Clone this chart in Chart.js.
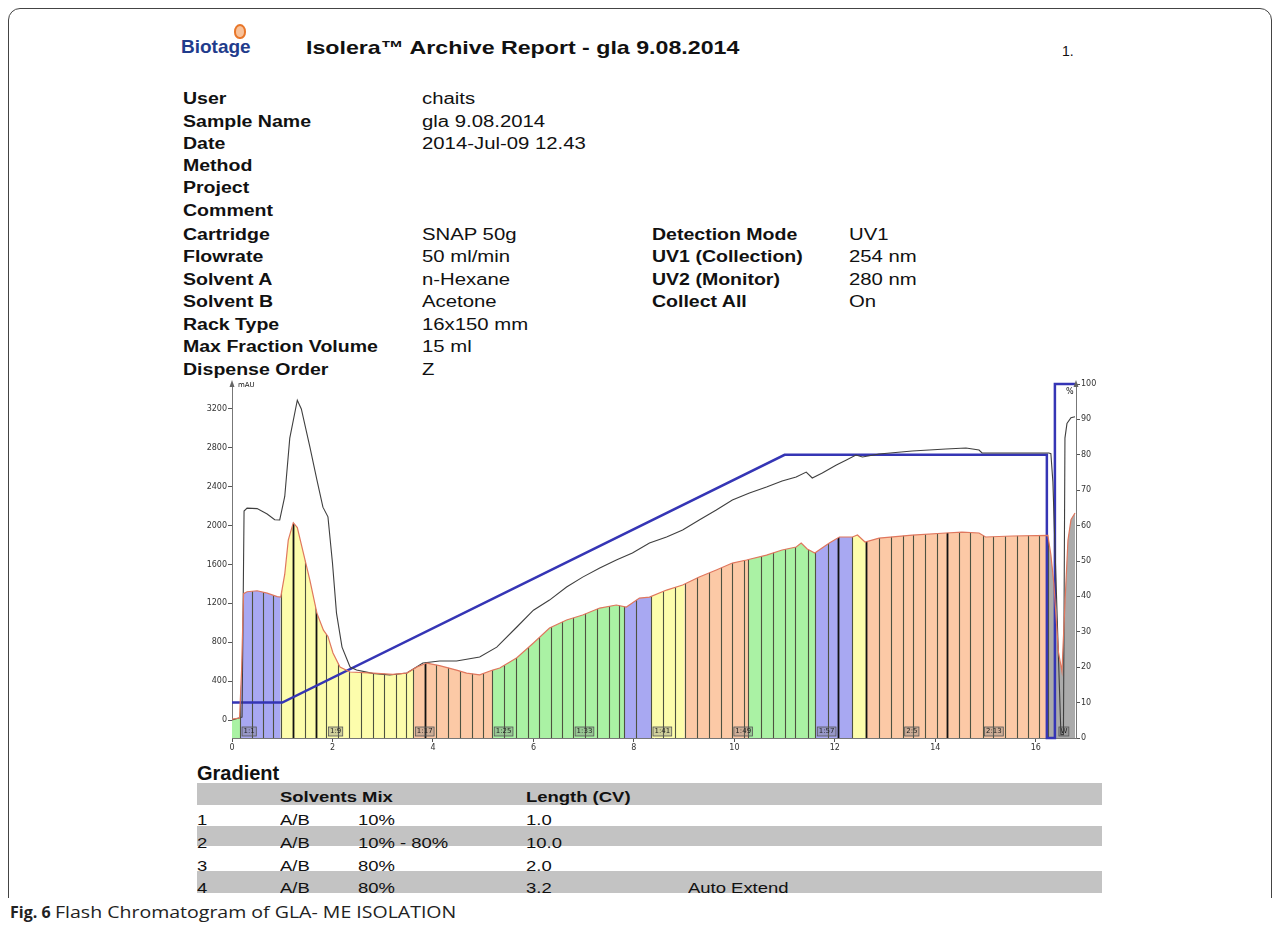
<!DOCTYPE html>
<html>
<head>
<meta charset="utf-8">
<script src="https://cdn.jsdelivr.net/npm/chart.js@4.4.0/dist/chart.umd.min.js"></script>
<style>
  html, body { margin: 0; padding: 0; background: #fff; }
  body { width: 1281px; height: 938px; position: relative; overflow: hidden; font-family: "Liberation Sans", Arial, sans-serif; color: #111; }
  .frame { position: absolute; left: 8px; top: 8px; width: 1264px; height: 1000px; border: 1.5px solid #444; border-radius: 12px; box-sizing: border-box; }
  .t { position: absolute; white-space: nowrap; transform-origin: 0 50%; line-height: 20px; }
  .lab { font-weight: bold; font-size: 16px; transform: scaleX(1.22); }
  .val { font-size: 16px; transform: scaleX(1.27); }
  .tb { font-size: 15px; transform: scaleX(1.23); }
  .bar { position: absolute; left: 197px; width: 905px; background: #c3c3c3; }
  #chartBox { position: absolute; left: 190px; top: 370px; width: 910px; height: 390px; }
</style>
</head>
<body>
<div class="frame"></div>

<!-- header -->
<div style="position:absolute;left:234px;top:24px;width:8px;height:11px;border-radius:50% 50% 45% 45%;border:2px solid #e8772a;background:#f8c29a;"></div>
<div class="t" style="left:181px;top:37px;font-size:19px;font-weight:bold;color:#1f3c8c;">Biotage</div>
<div class="t" style="left:306px;top:38px;font-size:19px;font-weight:bold;transform:scaleX(1.22);">Isolera™ Archive Report - gla 9.08.2014</div>
<div class="t" style="left:1062px;top:41px;font-size:14px;">1.</div>

<!-- info table -->
<div class="t lab" style="left:183px;top:89px;">User</div>
<div class="t lab" style="left:183px;top:112px;">Sample Name</div>
<div class="t lab" style="left:183px;top:134px;">Date</div>
<div class="t lab" style="left:183px;top:156px;">Method</div>
<div class="t lab" style="left:183px;top:178px;">Project</div>
<div class="t lab" style="left:183px;top:201px;">Comment</div>
<div class="t lab" style="left:183px;top:225px;">Cartridge</div>
<div class="t lab" style="left:183px;top:247px;">Flowrate</div>
<div class="t lab" style="left:183px;top:270px;">Solvent A</div>
<div class="t lab" style="left:183px;top:292px;">Solvent B</div>
<div class="t lab" style="left:183px;top:315px;">Rack Type</div>
<div class="t lab" style="left:183px;top:337px;">Max Fraction Volume</div>
<div class="t lab" style="left:183px;top:360px;">Dispense Order</div>

<div class="t val" style="left:422px;top:89px;">chaits</div>
<div class="t val" style="left:422px;top:112px;">gla 9.08.2014</div>
<div class="t val" style="left:422px;top:134px;">2014-Jul-09 12.43</div>
<div class="t val" style="left:422px;top:225px;">SNAP 50g</div>
<div class="t val" style="left:422px;top:247px;">50 ml/min</div>
<div class="t val" style="left:422px;top:270px;">n-Hexane</div>
<div class="t val" style="left:422px;top:292px;">Acetone</div>
<div class="t val" style="left:422px;top:315px;">16x150 mm</div>
<div class="t val" style="left:422px;top:337px;">15 ml</div>
<div class="t val" style="left:422px;top:360px;">Z</div>

<div class="t lab" style="left:652px;top:225px;">Detection Mode</div>
<div class="t lab" style="left:652px;top:247px;">UV1 (Collection)</div>
<div class="t lab" style="left:652px;top:270px;">UV2 (Monitor)</div>
<div class="t lab" style="left:652px;top:292px;">Collect All</div>
<div class="t val" style="left:849px;top:225px;">UV1</div>
<div class="t val" style="left:849px;top:247px;">254 nm</div>
<div class="t val" style="left:849px;top:270px;">280 nm</div>
<div class="t val" style="left:849px;top:292px;">On</div>

<!-- chart -->
<div id="chartBox"><canvas id="chrom"></canvas></div>
<div class="t" style="left:238px;top:381px;font-size:7px;line-height:9px;font-family:'DejaVu Sans';">mAU</div>
<div class="t" style="left:1066px;top:387px;font-size:8px;line-height:9px;font-family:'DejaVu Sans';">%</div>

<!-- gradient table -->
<div class="t" style="left:197px;top:763px;font-size:20px;font-weight:bold;">Gradient</div>
<div class="bar" style="top:783px;height:22px;"></div>
<div class="bar" style="top:826px;height:20px;"></div>
<div class="bar" style="top:871px;height:22px;"></div>
<div class="t tb" style="left:280px;top:787px;font-weight:bold;">Solvents Mix</div>
<div class="t tb" style="left:526px;top:787px;font-weight:bold;">Length (CV)</div>

<div class="t tb" style="left:197px;top:810px;">1</div>
<div class="t tb" style="left:280px;top:810px;">A/B</div>
<div class="t tb" style="left:358px;top:810px;">10%</div>
<div class="t tb" style="left:526px;top:810px;">1.0</div>

<div class="t tb" style="left:197px;top:833px;">2</div>
<div class="t tb" style="left:280px;top:833px;">A/B</div>
<div class="t tb" style="left:358px;top:833px;">10% - 80%</div>
<div class="t tb" style="left:526px;top:833px;">10.0</div>

<div class="t tb" style="left:197px;top:856px;">3</div>
<div class="t tb" style="left:280px;top:856px;">A/B</div>
<div class="t tb" style="left:358px;top:856px;">80%</div>
<div class="t tb" style="left:526px;top:856px;">2.0</div>

<div class="t tb" style="left:197px;top:878px;">4</div>
<div class="t tb" style="left:280px;top:878px;">A/B</div>
<div class="t tb" style="left:358px;top:878px;">80%</div>
<div class="t tb" style="left:526px;top:878px;">3.2</div>
<div class="t tb" style="left:688px;top:878px;">Auto Extend</div>

<!-- caption -->
<div style="position:absolute;left:0;top:898px;width:1281px;height:40px;background:#fff;"></div>
<div class="t" style="left:10px;top:902px;font-family:'Open Sans',sans-serif;font-size:16px;font-weight:bold;color:#222;">Fig. 6</div>
<div class="t" style="left:55px;top:902px;font-family:'Open Sans',sans-serif;font-size:16px;color:#222;transform:scaleX(1.22);">Flash Chromatogram of GLA- ME ISOLATION</div>

<script>
// UV1 (collection trace, mAU) - filled by fraction colour
const uv1X = [0, 0.15, 0.19, 0.23, 0.3, 0.5, 0.7, 0.9, 0.97, 1.05, 1.12, 1.22, 1.3, 1.42, 1.55, 1.69, 1.82, 1.91, 2.01, 2.15,
  2.35, 2.81, 3.2, 3.48, 3.68, 3.88, 4.13, 4.47, 4.67, 4.93, 5.19, 5.33, 5.53, 5.67, 6.0, 6.32, 6.66, 6.98, 7.32, 7.65,
  7.85, 8.11, 8.31, 8.65, 8.97, 9.3, 9.64, 9.96, 10.24, 10.64, 10.95, 11.23, 11.33, 11.45, 11.6, 11.89, 12.09, 12.35, 12.45, 12.6,
  12.88, 13.54, 14.21, 14.53, 14.87, 15.0, 15.53, 16.24, 16.3, 16.36, 16.45, 16.52, 16.58, 16.64, 16.7, 16.78];
const uv1Y = [10, 20, 500, 1300, 1320, 1330, 1305, 1270, 1265, 1500, 1850, 2030, 1980, 1720, 1440, 1100, 925, 860, 690, 545,
  494, 483, 470, 483, 545, 586, 560, 514, 483, 465, 514, 535, 597, 640, 792, 946, 1029, 1080, 1152, 1183,
  1162, 1255, 1265, 1337, 1389, 1471, 1543, 1615, 1646, 1697, 1749, 1780, 1821, 1760, 1718, 1821, 1883, 1883, 1903, 1831,
  1872, 1903, 1924, 1934, 1924, 1883, 1893, 1900, 1700, 1400, 700, 500, 1200, 1850, 2060, 2130];

// UV2 (monitor trace, mAU)
const uv2X = [0, 0.2, 0.24, 0.3, 0.5, 0.7, 0.85, 0.95, 1.05, 1.15, 1.3, 1.38, 1.55, 1.69, 1.81, 1.91, 2.0, 2.08, 2.19, 2.35,
  2.48, 2.8, 3.14, 3.48, 3.8, 4.13, 4.47, 4.93, 5.27, 5.67, 6.0, 6.32, 6.66, 6.98, 7.32, 7.65, 7.97, 8.31, 8.65, 8.97,
  9.3, 9.64, 9.96, 10.3, 10.64, 10.95, 11.23, 11.43, 11.55, 11.75, 12.03, 12.23, 12.42, 12.55, 12.88, 13.54, 14.21, 14.61, 14.87, 14.93,
  15.53, 16.26, 16.3, 16.34, 16.5, 16.55, 16.58, 16.62, 16.7, 16.78];
const uv2Y = [0, 30, 2150, 2180, 2175, 2120, 2060, 2058, 2300, 2900, 3290, 3200, 2810, 2470, 2190, 2090, 1615, 1100, 750, 545,
  515, 480, 463, 483, 586, 607, 607, 648, 750, 957, 1130, 1234, 1368, 1470, 1563, 1646, 1718, 1821, 1883, 1955,
  2058, 2160, 2263, 2335, 2397, 2460, 2500, 2551, 2490, 2541, 2623, 2675, 2726, 2706, 2737, 2767, 2788, 2798, 2778, 2747,
  2747, 2747, 2740, 2450, -150, -150, 2900, 3050, 3110, 3120];

// gradient %B
const gradX = [0, 1.0, 11.0, 16.22, 16.22, 16.38, 16.38, 16.78];
const gradY = [10, 10, 80, 80, 0, 0, 100, 100];

// fraction colour zones (CV)
const zoneStart = [0, 0.16, 0.97, 3.61, 5.18, 7.81, 8.34, 9.01, 10.28, 11.61, 12.35, 12.62, 16.24];
const zoneEnd = [0.16, 0.97, 3.61, 5.18, 7.81, 8.34, 9.01, 10.28, 11.61, 12.35, 12.62, 16.24, 16.78];
const zoneKind = ['G', 'B', 'Y', 'O', 'G', 'B', 'Y', 'O', 'G', 'B', 'Y', 'O', 'W'];

// fraction cuts (CV)
const cuts = [0.16, 0.39, 0.61, 0.82, 0.97, 1.21, 1.45, 1.67, 1.88, 2.10, 2.33, 2.56, 2.80, 3.03, 3.26, 3.47, 3.61,
  3.84, 4.07, 4.30, 4.53, 4.77, 5.00, 5.18, 5.41, 5.66, 5.89, 6.11, 6.34, 6.57, 6.79, 7.03, 7.27, 7.50, 7.71, 7.81,
  8.05, 8.34, 8.57, 8.81, 9.01, 9.25, 9.50, 9.74, 9.95, 10.20, 10.28, 10.53, 10.76, 11.00, 11.21, 11.46, 11.61,
  11.86, 12.07, 12.35, 12.62, 12.88, 13.11, 13.35, 13.56, 13.79, 14.03, 14.24, 14.47, 14.70, 14.94, 15.15, 15.38,
  15.62, 15.85, 16.07, 16.24];
const darkCuts = [1.21, 1.67, 3.84, 12.07, 12.62, 14.24];

// tube labels
const fracLabelX = [0.16, 1.88, 3.61, 5.18, 6.79, 8.34, 9.95, 11.61, 13.35, 14.94, 16.42];
const fracLabels = ['1:1', '1:9', '1:17', '1:25', '1:33', '1:41', '1:49', '1:57', '2:5', '2:13', 'W'];

// axis ticks
const mAUTicks = [0, 400, 800, 1200, 1600, 2000, 2400, 2800, 3200];
const cvTicks = [0, 2, 4, 6, 8, 10, 12, 14, 16];
const pctTicks = [0, 10, 20, 30, 40, 50, 60, 70, 80, 90, 100];

const palette = { G: '#aaf2a4', B: '#a8a8f2', Y: '#fdfdac', O: '#fcc9a6', W: '#ababab' };

const pairs = (xs, ys) => xs.map((x, i) => ({ x: x, y: ys[i] }));

const fractionPlugin = {
  id: 'fractions',
  beforeDatasetsDraw(chart) {
    const { ctx, chartArea: ca, scales: { x } } = chart;
    const pts = chart.getDatasetMeta(0).data;
    ctx.save();
    ctx.beginPath();
    ctx.moveTo(pts[0].x, ca.bottom);
    pts.forEach(p => ctx.lineTo(p.x, p.y));
    ctx.lineTo(pts[pts.length - 1].x, ca.bottom);
    ctx.closePath();
    ctx.clip();
    zoneStart.forEach((s, i) => {
      const x0 = x.getPixelForValue(s), x1 = x.getPixelForValue(zoneEnd[i]);
      ctx.fillStyle = palette[zoneKind[i]];
      ctx.fillRect(x0, ca.top, x1 - x0, ca.bottom - ca.top);
    });
    cuts.forEach(c => {
      const px = Math.round(x.getPixelForValue(c)) + 0.5;
      const dark = darkCuts.includes(c);
      ctx.strokeStyle = dark ? '#111' : '#4e5240';
      ctx.lineWidth = dark ? 1.8 : 1.1;
      ctx.beginPath();
      ctx.moveTo(px, ca.top);
      ctx.lineTo(px, ca.bottom);
      ctx.stroke();
    });
    ctx.restore();

    // tube labels
    ctx.save();
    ctx.font = '7px "DejaVu Sans"';
    ctx.textBaseline = 'middle';
    fracLabelX.forEach((v, i) => {
      const px = x.getPixelForValue(v) + 2;
      const w = ctx.measureText(fracLabels[i]).width + 3;
      ctx.fillStyle = 'rgba(120,120,120,0.35)';
      ctx.fillRect(px, ca.bottom - 11, w, 9);
      ctx.strokeStyle = '#555';
      ctx.lineWidth = 0.8;
      ctx.strokeRect(px, ca.bottom - 11, w, 9);
      ctx.fillStyle = '#222';
      ctx.fillText(fracLabels[i], px + 1.5, ca.bottom - 6.5);
    });
    ctx.restore();
  },
  afterDraw(chart) {
    const { ctx, chartArea: ca } = chart;
    ctx.save();
    ctx.fillStyle = '#666';
    [[ca.left, ca.top - 4], [ca.right, ca.top - 4]].forEach(([ax, ay]) => {
      ctx.beginPath();
      ctx.moveTo(ax, ay);
      ctx.lineTo(ax - 2.5, ay + 7);
      ctx.lineTo(ax + 2.5, ay + 7);
      ctx.closePath();
      ctx.fill();
    });
    ctx.restore();
  }
};

const tickFont = { family: 'DejaVu Sans', size: 8 };
const plainTick = v => String(v);

new Chart(document.getElementById('chrom').getContext('2d'), {
  type: 'line',
  data: {
    datasets: [{
      label: 'UV1',
      data: pairs(uv1X, uv1Y),
      borderColor: '#e0775e',
      borderWidth: 1.2,
      pointRadius: 0,
      fill: false,
      yAxisID: 'y'
    }, {
      label: 'UV2',
      data: pairs(uv2X, uv2Y),
      borderColor: '#3f3f3f',
      borderWidth: 1.1,
      pointRadius: 0,
      fill: false,
      yAxisID: 'y'
    }, {
      label: 'Gradient',
      data: pairs(gradX, gradY),
      borderColor: '#3535b5',
      borderWidth: 2.5,
      pointRadius: 0,
      fill: false,
      clip: 4,
      yAxisID: 'y2'
    }]
  },
  options: {
    responsive: true,
    maintainAspectRatio: false,
    animation: false,
    layout: { padding: { top: 14, left: 0, right: 0, bottom: 0 } },
    plugins: { legend: { display: false }, tooltip: { enabled: false } },
    scales: {
      x: {
        type: 'linear', min: 0, max: 16.8,
        afterBuildTicks: s => { s.ticks = cvTicks.map(v => ({ value: v })); },
        afterFit: s => { s.height = 22; },
        ticks: { font: tickFont, color: '#333', padding: 1, maxRotation: 0, callback: plainTick },
        grid: { drawOnChartArea: false, tickLength: 4, color: '#555' },
        border: { color: '#777' }
      },
      y: {
        type: 'linear', min: -185, max: 3457, position: 'left',
        afterBuildTicks: s => { s.ticks = mAUTicks.map(v => ({ value: v })); },
        afterFit: s => { s.width = 42; },
        ticks: { font: tickFont, color: '#333', padding: 1, callback: plainTick },
        grid: { drawOnChartArea: false, tickLength: 4, color: '#555' },
        border: { color: '#777' }
      },
      y2: {
        type: 'linear', min: 0, max: 100, position: 'right',
        afterBuildTicks: s => { s.ticks = pctTicks.map(v => ({ value: v })); },
        afterFit: s => { s.width = 24; },
        ticks: { font: tickFont, color: '#333', padding: 1, callback: plainTick },
        grid: { drawOnChartArea: false, tickLength: 4, color: '#555' },
        border: { color: '#777' }
      }
    }
  },
  plugins: [fractionPlugin]
});
</script>
</body>
</html>
